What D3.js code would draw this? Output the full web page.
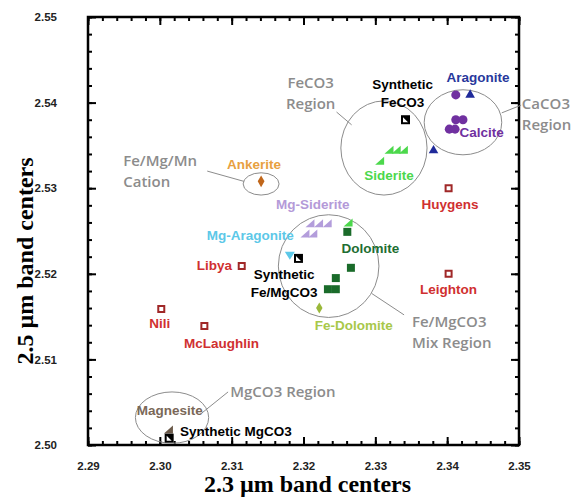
<!DOCTYPE html>
<html>
<head>
<meta charset="utf-8">
<script src="https://cdn.jsdelivr.net/npm/d3@7"></script>
<style>
  body { margin: 0; background: #fff; }
  .tick text { font-family: "Liberation Sans", Arial, sans-serif; font-weight: bold; font-size: 11.5px; fill: #222; }
  .lbl { font-family: "Liberation Sans", Arial, sans-serif; font-weight: bold; font-size: 13.5px; }
  .note { font-family: "Open Sans", sans-serif; font-weight: 600; font-size: 15px; fill: #8c8c8c; }
  .atitle { font-family: "Liberation Serif", "Times New Roman", serif; font-weight: bold; fill: #000; }
</style>
</head>
<body>
<div id="chart"></div>
<script>
// chart size
var svgWidth = 583;
var svgHeight = 497;

var margin = { top: 17, right: 64, bottom: 52, left: 88 };
var width = svgWidth - margin.left - margin.right;
var height = svgHeight - margin.top - margin.bottom;

// axis ticks
var xTicks = [2.29, 2.30, 2.31, 2.32, 2.33, 2.34, 2.35];
var yTicks = [2.50, 2.51, 2.52, 2.53, 2.54, 2.55];

// band centers [2.3 um, 2.5 um]
var aragonite = [[2.3412, 2.5409]];
var aragoniteTri = [[2.3432, 2.5409], [2.3381, 2.5344]];
var calcite = [[2.3403, 2.5369], [2.3411, 2.5369], [2.3412, 2.5380], [2.3422, 2.5380]];
var siderite = [[2.3319, 2.5345], [2.3329, 2.5345], [2.3339, 2.5345], [2.3306, 2.5332], [2.3262, 2.5260]];
var mgSiderite = [[2.3209, 2.5259], [2.3221, 2.5259], [2.3233, 2.5259], [2.3202, 2.5247], [2.3213, 2.5247]];
var dolomite = [[2.3261, 2.5249], [2.3266, 2.5207], [2.3245, 2.5195], [2.3234, 2.5182], [2.3245, 2.5182]];
var mgAragonite = [[2.3181, 2.5221]];
var feDolomite = [[2.3222, 2.5160]];
var ankerite = [[2.3141, 2.5308]];
var magnesite = [[2.3012, 2.5018]];
var synthetic = [[2.3342, 2.5380], [2.3193, 2.5218], [2.3013, 2.5008]];
var marsSites = ["Huygens", "Leighton", "Libya", "Nili", "McLaughlin"];
var marsValues = [[2.3402, 2.5300], [2.3402, 2.5200], [2.3114, 2.5209], [2.3002, 2.5159], [2.3062, 2.5139]];

var svg = d3.select("#chart").append("svg")
    .attr("width", svgWidth)
    .attr("height", svgHeight);

var chartGroup = svg.append("g")
    .attr("transform", `translate(${margin.left}, ${margin.top})`);

var xScale = d3.scaleLinear().domain([2.29, 2.35]).range([0, width]);
var yScale = d3.scaleLinear().domain([2.50, 2.55]).range([height, 0]);

var xMinor = d3.range(0, 31).map(i => 2.29 + i * 0.002);
var yMinor = d3.range(0, 26).map(i => 2.50 + i * 0.002);

// ticks point inward on all four sides
function addAxis(axisFn, scale, values, size, labels, tr, pad) {
    var a = axisFn(scale).tickValues(values).tickSize(-size).tickPadding(pad || 3);
    if (labels) a.tickFormat(d3.format(".2f")); else a.tickFormat("");
    var g = chartGroup.append("g").attr("transform", tr).call(a);
    g.select(".domain").remove();
    g.selectAll("line").attr("stroke", "#000").attr("stroke-width", 2);
    return g;
}
addAxis(d3.axisBottom, xScale, xMinor, 4, false, `translate(0,${height})`);
addAxis(d3.axisBottom, xScale, xTicks, 8, true, `translate(0,${height})`, 17);
addAxis(d3.axisTop, xScale, xMinor, 4, false, "translate(0,0)");
addAxis(d3.axisTop, xScale, xTicks, 8, false, "translate(0,0)");
addAxis(d3.axisLeft, yScale, yMinor, 4, false, "translate(0,0)");
addAxis(d3.axisLeft, yScale, yTicks, 8, true, "translate(0,0)", 31);
addAxis(d3.axisRight, yScale, yMinor, 4, false, `translate(${width},0)`);
addAxis(d3.axisRight, yScale, yTicks, 8, false, `translate(${width},0)`);

chartGroup.append("rect")
    .attr("width", width).attr("height", height)
    .attr("fill", "none").attr("stroke", "#000").attr("stroke-width", 2.5);

// region ellipses [cx, cy, rx, ry] in data units
var regions = [
    [2.3312, 2.5347, 0.0060, 0.0055],
    [2.3422, 2.5377, 0.0054, 0.0038],
    [2.3141, 2.5305, 0.0025, 0.0013],
    [2.3235, 2.5209, 0.0070, 0.0060],
    [2.3017, 2.5032, 0.0051, 0.0030]
];
chartGroup.selectAll(".region").data(regions).enter().append("ellipse")
    .attr("cx", d => xScale(d[0])).attr("cy", d => yScale(d[1]))
    .attr("rx", d => xScale(d[0] + d[2]) - xScale(d[0]))
    .attr("ry", d => yScale(d[1]) - yScale(d[1] + d[3]))
    .attr("fill", "none").attr("stroke", "#8c8c8c").attr("stroke-width", 1);

var leaders = [
    [2.3246, 2.5389, 2.3267, 2.5374],
    [2.3476, 2.5388, 2.3503, 2.5397],
    [2.3066, 2.5320, 2.3117, 2.5308],
    [2.3095, 2.5062, 2.3058, 2.5037],
    [2.3295, 2.5177, 2.3340, 2.5152]
];
chartGroup.selectAll(".leader").data(leaders).enter().append("line")
    .attr("x1", d => xScale(d[0])).attr("y1", d => yScale(d[1]))
    .attr("x2", d => xScale(d[2])).attr("y2", d => yScale(d[3]))
    .attr("stroke", "#8c8c8c").attr("stroke-width", 1);

// markers
function pt(d) { return `translate(${xScale(d[0])},${yScale(d[1])})`; }
var rightTri = "M4.5,-4L4.5,4L-4.5,4Z";

function drawSymbols(data, path, fill, stroke, sw) {
    chartGroup.append("g").selectAll("path").data(data).enter().append("path")
        .attr("transform", pt)
        .attr("d", path)
        .attr("fill", fill)
        .attr("stroke", stroke || "none")
        .attr("stroke-width", sw || 0);
}
drawSymbols(aragonite.concat(calcite), d3.symbol(d3.symbolCircle, 64)(), "#7030a0");
drawSymbols(aragoniteTri, d3.symbol(d3.symbolTriangle, 40)(), "#1f2a9a");
drawSymbols(siderite, rightTri, "#4cd84c");
drawSymbols(mgSiderite, rightTri, "#b39ddb");
drawSymbols(dolomite, d3.symbol(d3.symbolSquare, 64)(), "#1a6b2a");
drawSymbols(mgAragonite, "M-5,-4L5,-4L0,4Z", "#5cc8e8");
drawSymbols(feDolomite, d3.symbol(d3.symbolDiamond, 36)(), "#9ab83a");
drawSymbols(ankerite, d3.symbol(d3.symbolDiamond, 40)(), "#c0661a");
drawSymbols(magnesite, rightTri, "#6b5a4a");
drawSymbols(marsValues, d3.symbol(d3.symbolSquare, 36)(), "#fff", "#a02828", 2);
drawSymbols(synthetic, "M-4.5,-4.5H4.5V4.5H-4.5Z", "#000");
drawSymbols(synthetic, "M-2.5,-2.5L2.5,2.5H-2.5Z", "#fff");

// labels [text, x, y, colour]
var labels = [
    ["Aragonite", 2.3443, 2.5424, "#28389c"],
    ["Calcite", 2.3448, 2.5360, "#7030a0"],
    ["Siderite", 2.3319, 2.5309, "#4cd84c"],
    ["Ankerite", 2.3131, 2.5323, "#e8a040"],
    ["Mg-Siderite", 2.3213, 2.5276, "#b49ad8"],
    ["Mg-Aragonite", 2.3126, 2.5240, "#5cc8e8"],
    ["Dolomite", 2.3293, 2.5224, "#1e6e32"],
    ["Fe-Dolomite", 2.3270, 2.5134, "#a8c84a"],
    ["Magnesite", 2.3014, 2.5035, "#7a6858"]
];
// site names sit below their marker, Libya to the left
var siteDx = [0.0002, 0.0000, -0.0038, -0.0002, 0.0024];
var siteDy = [-0.0024, -0.0024, -0.0004, -0.0022, -0.0026];
labels = labels.concat(marsSites.map((s, i) =>
    [s, marsValues[i][0] + siteDx[i], marsValues[i][1] + siteDy[i], "#d03030"]));

chartGroup.selectAll(".lbl").data(labels).enter().append("text")
    .attr("class", "lbl")
    .attr("x", d => xScale(d[1])).attr("y", d => yScale(d[2]))
    .attr("text-anchor", "middle")
    .attr("fill", d => d[3])
    .text(d => d[0]);

// multi-line notes [lines, x, y, anchor, class]
var notes = [
    [["Synthetic", "FeCO3"], 2.3338, 2.5416, "middle", "lbl"],
    [["Synthetic", "Fe/MgCO3"], 2.3173, 2.5194, "middle", "lbl"],
    [["Synthetic MgCO3"], 2.3028, 2.5010, "start", "lbl"],
    [["FeCO3", "Region"], 2.3210, 2.5417, "middle", "note"],
    [["CaCO3", "Region"], 2.3504, 2.5393, "start", "note"],
    [["Fe/Mg/Mn", "Cation"], 2.2949, 2.5326, "start", "note"],
    [["Fe/MgCO3", "Mix Region"], 2.3351, 2.5138, "start", "note"],
    [["MgCO3 Region"], 2.3098, 2.5056, "start", "note"]
];
notes.forEach(function (n) {
    var t = chartGroup.append("text")
        .attr("class", n[4])
        .attr("text-anchor", n[3])
        .attr("fill", n[4] == "lbl" ? "#000" : null)
        .attr("y", yScale(n[2]));
    n[0].forEach(function (line, i) {
        t.append("tspan").attr("x", xScale(n[1])).attr("dy", i ? (n[4] == "lbl" ? 18 : 21) : 0).text(line);
    });
});

// axis titles
svg.append("text")
    .attr("class", "atitle")
    .attr("x", margin.left + width / 2 + 4)
    .attr("y", 492)
    .attr("text-anchor", "middle")
    .attr("font-size", "24px")
    .text("2.3 µm band centers");

svg.append("text")
    .attr("class", "atitle")
    .attr("transform", `translate(33, ${margin.top + height / 2 + 30}) rotate(-90)`)
    .attr("text-anchor", "middle")
    .attr("font-size", "24px")
    .text("2.5 µm band centers");
</script>
</body>
</html>
